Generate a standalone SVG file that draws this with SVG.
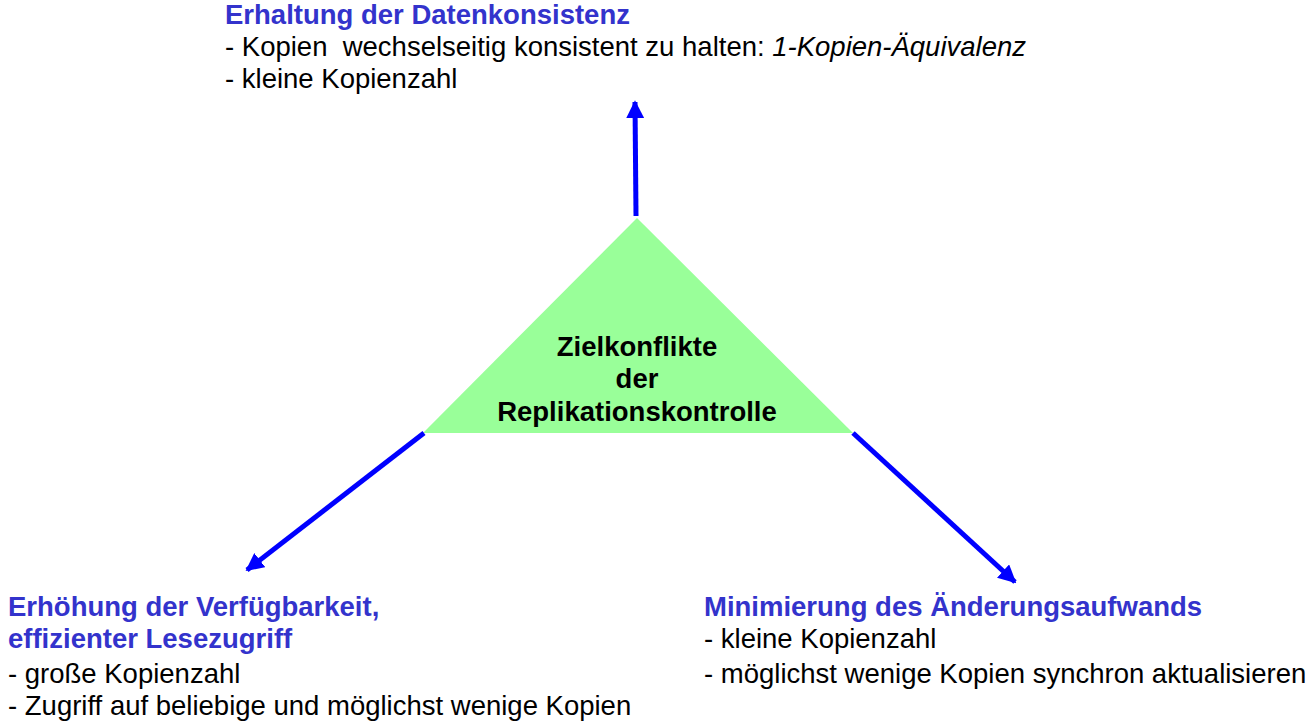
<svg xmlns="http://www.w3.org/2000/svg" width="1313" height="724" viewBox="0 0 1313 724">
<style>
text{font-family:"Liberation Sans",Arial,sans-serif;font-size:27.5px;fill:#000}
.h{font-weight:bold;fill:#3333CC}
.c{font-weight:bold;font-size:27.5px;text-anchor:middle}
.a{stroke:#0000FF;stroke-width:5;fill:none}
</style>
<defs>
<marker id="ah" viewBox="0 0 10 10" refX="9" refY="5" markerWidth="3.6" markerHeight="3.6" orient="auto" markerUnits="strokeWidth">
<path d="M0,0 L10,5 L0,10 z" fill="#0000FF"/>
</marker>
</defs>
<rect width="1313" height="724" fill="#fff"/>
<g id="center">
<polygon points="637,218 423,433 853,433" fill="#99FF99"/>
<text class="c" x="637" y="356">Zielkonflikte</text>
<text class="c" x="637" y="388">der</text>
<text class="c" x="637" y="421">Replikationskontrolle</text>
</g>
<g id="connectors">
<line class="a" x1="636" y1="216" x2="635" y2="102" marker-end="url(#ah)"/>
<line class="a" x1="424" y1="433" x2="247" y2="570" marker-end="url(#ah)"/>
<line class="a" x1="853" y1="433" x2="1015" y2="582" marker-end="url(#ah)"/>
</g>
<g id="top">
<text class="h" x="225" y="24">Erhaltung der Datenkonsistenz</text>
<text x="225" y="56" xml:space="preserve">- Kopien  wechselseitig konsistent zu halten: <tspan font-style="italic">1-Kopien-Äquivalenz</tspan></text>
<text x="225" y="88">- kleine Kopienzahl</text>
</g>
<g id="left">
<text class="h" x="8" y="616">Erhöhung der Verfügbarkeit,</text>
<text class="h" x="8" y="648">effizienter Lesezugriff</text>
<text x="8" y="683">- große Kopienzahl</text>
<text x="8" y="715">- Zugriff auf beliebige und möglichst wenige Kopien</text>
</g>
<g id="right">
<text class="h" x="704" y="616">Minimierung des Änderungsaufwands</text>
<text x="704" y="648">- kleine Kopienzahl</text>
<text x="704" y="683">- möglichst wenige Kopien synchron aktualisieren</text>
</g>
</svg>
